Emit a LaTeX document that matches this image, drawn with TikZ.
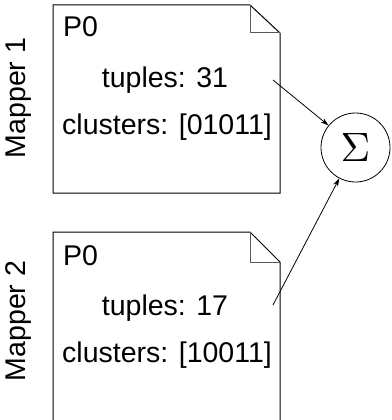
\documentclass[tikz,border=0pt]{standalone}
\usepackage{fontspec}
\setmainfont{Liberation Sans}
\usetikzlibrary{arrows.meta}
\begin{document}
\begin{tikzpicture}[x=1pt,y=-1pt,
  doc/.style={line width=1pt,draw=black},
  fold/.style={line width=1pt,draw=black!65},
  txt/.style={inner sep=0pt,font=\fontsize{28.5}{34}\selectfont},
  lbl/.style={inner sep=0pt,font=\fontsize{28.5}{34}\selectfont,rotate=90},
  conn/.style={line width=0.8pt,-{Stealth[length=8pt,width=5pt]}}]
\useasboundingbox (0,0) rectangle (391,420);
\clip (0,0) rectangle (391,420);
% document 1
\draw[doc] (53,5) -- (250,5) -- (280,33) -- (280,193) -- (53,193) -- cycle;
\draw[fold] (250,5) -- (250,33) -- (280,33);
% document 2
\draw[doc] (53,232) -- (250,232) -- (280,262) -- (280,440) -- (53,440) -- cycle;
\draw[fold] (250,232) -- (250,262) -- (280,262);
% texts
\node[txt,anchor=base west] (p1) at (63,37) {P0};
\node[txt,anchor=base] (t1) at (165,87) {tuples: 31};
\node[txt,anchor=base] (c1) at (167,134) {clusters: [01011]};
\node[txt,anchor=base west] (p2) at (63,265) {P0};
\node[txt,anchor=base] (t2) at (165,315) {tuples: 17};
\node[txt,anchor=base] (c2) at (167,362) {clusters: [10011]};
\node[lbl] (m1) at (19,98) {Mapper 1};
\node[lbl] (m2) at (19,321) {Mapper 2};
% sum node
\node[draw,line width=0.8pt,circle,minimum size=69pt,inner sep=0pt] (sum) at (355.5,147.5) {\scalebox{4.1}{$\Sigma$}};
\coordinate (a1) at (273,80);
\coordinate (a2) at (273,305);
\draw[conn] (a1) -- (sum);
\draw[conn] (a2) -- (sum);
\end{tikzpicture}
\end{document}
